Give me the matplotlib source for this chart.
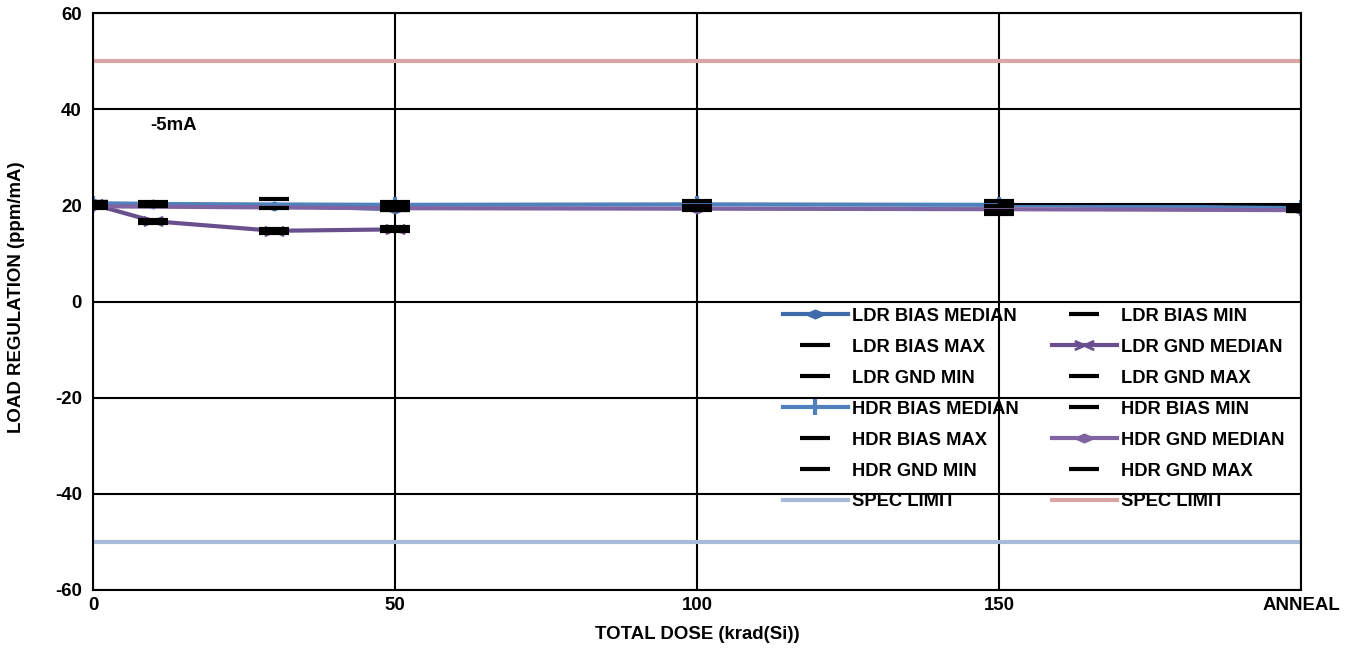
import matplotlib.pyplot as plt
from matplotlib.path import Path

plt.rcParams['font.family'] = ['Liberation Sans', 'DejaVu Sans']
plt.rcParams['font.weight'] = 'bold'
plt.rcParams['axes.unicode_minus'] = False

# dose points; ANNEAL is placed at 200
ldr_dose = [0, 10, 30, 50]
hdr_dose = [0, 50, 100, 150, 200]
x_ticks = [0, 50, 100, 150, 200]
x_ticklabels = ['0', '50', '100', '150', 'ANNEAL']

ldr_bias_median = [20.4, 20.3, 19.9, 19.2]
ldr_bias_min = [19.8, 19.9, 19.4, 19.0]
ldr_bias_max = [20.7, 20.6, 21.4, 20.6]
ldr_gnd_median = [20.2, 16.7, 14.7, 15.0]
ldr_gnd_min = [19.6, 16.4, 14.3, 14.6]
ldr_gnd_max = [20.6, 16.9, 15.1, 15.4]

hdr_bias_median = [20.3, 20.1, 20.2, 20.1, 19.4]
hdr_bias_min = [19.9, 19.6, 19.4, 18.3, 18.9]
hdr_bias_max = [20.6, 20.5, 20.9, 20.8, 19.6]
hdr_gnd_median = [19.8, 19.4, 19.3, 19.2, 19.0]
hdr_gnd_min = [19.5, 19.0, 19.0, 18.9, 18.8]
hdr_gnd_max = [20.2, 20.0, 19.9, 19.8, 19.4]

anneal_link_dose = [150, 200]
anneal_link = [20.2, 20.2]

spec_low = -50
spec_high = 50

diamond = Path([(-1, 0), (0, 0.45), (1, 0), (0, -0.45), (-1, 0)],
               [Path.MOVETO, Path.LINETO, Path.LINETO, Path.LINETO, Path.CLOSEPOLY])
cross = Path([(-1, 0.45), (1, -0.45), (-1, -0.45), (1, 0.45)],
             [Path.MOVETO, Path.LINETO, Path.MOVETO, Path.LINETO])

fig = plt.figure(figsize=(13.48, 6.48), dpi=100)
ax = fig.add_axes([93 / 1348, 58 / 648, 1208 / 1348, 577 / 648])

h = {}
h['sl'] = ax.axhline(spec_low, color='#A7BAD9', lw=3, label='SPEC LIMIT')
h['sh'] = ax.axhline(spec_high, color='#D9A5A5', lw=3, label='SPEC LIMIT')

h['lbm'], = ax.plot(ldr_dose, ldr_bias_median, color='#3E6BA9', lw=3,
                    marker=diamond, ms=14, label='LDR BIAS MEDIAN')
h['lgm'], = ax.plot(ldr_dose, ldr_gnd_median, color='#6A4F8E', lw=3,
                    marker=cross, ms=14, mew=2, label='LDR GND MEDIAN')
h['hbm'], = ax.plot(hdr_dose, hdr_bias_median, color='#4F81BD', lw=3,
                    marker='|', ms=12, mew=3, label='HDR BIAS MEDIAN')
h['hgm'], = ax.plot(hdr_dose, hdr_gnd_median, color='#8064A2', lw=3,
                    marker=diamond, ms=14, label='HDR GND MEDIAN')
ax.plot(anneal_link_dose, anneal_link, color='black', lw=1.5)

mm = dict(color='black', ls='none', marker='_', ms=22, mew=3)
h['lbn'], = ax.plot(ldr_dose, ldr_bias_min, label='LDR BIAS MIN', **mm)
h['lbx'], = ax.plot(ldr_dose, ldr_bias_max, label='LDR BIAS MAX', **mm)
h['lgn'], = ax.plot(ldr_dose, ldr_gnd_min, label='LDR GND MIN', **mm)
h['lgx'], = ax.plot(ldr_dose, ldr_gnd_max, label='LDR GND MAX', **mm)
h['hbn'], = ax.plot(hdr_dose, hdr_bias_min, label='HDR BIAS MIN', **mm)
h['hbx'], = ax.plot(hdr_dose, hdr_bias_max, label='HDR BIAS MAX', **mm)
h['hgn'], = ax.plot(hdr_dose, hdr_gnd_min, label='HDR GND MIN', **mm)
h['hgx'], = ax.plot(hdr_dose, hdr_gnd_max, label='HDR GND MAX', **mm)

ax.set_xlim(0, 200)
ax.set_ylim(-60, 60)
ax.set_xticks(x_ticks)
ax.set_xticklabels(x_ticklabels)
ax.set_yticks(range(-60, 61, 20))
ax.tick_params(length=0, labelsize=13.4)
ax.tick_params(axis='y', pad=8)
ax.tick_params(axis='x', pad=5)
for lab in ax.get_xticklabels() + ax.get_yticklabels():
    lab.set_fontweight('bold')
ax.grid(True, color='black', lw=1.5)
ax.set_axisbelow(True)
for s in ax.spines.values():
    s.set_linewidth(1.5)

ax.set_xlabel('TOTAL DOSE (krad(Si))', fontsize=13.4, fontweight='bold', labelpad=9)
ax.set_ylabel('LOAD REGULATION (ppm/mA)', fontsize=13.4, fontweight='bold')
ax.yaxis.set_label_coords(-0.0563, 0.507)
ax.text(9.5, 36.5, '-5mA', fontsize=13.4, fontweight='bold', va='center')

order = ['lbm', 'lbx', 'lgn', 'hbm', 'hbx', 'hgn', 'sl',
         'lbn', 'lgm', 'lgx', 'hbn', 'hgm', 'hgx', 'sh']
ax.legend([h[k] for k in order], [h[k].get_label() for k in order],
          ncol=2, loc='upper left', bbox_to_anchor=(0.571, 0.489),
          frameon=False, fontsize=13.2, handlelength=3.55, handletextpad=0.22,
          columnspacing=1.8, labelspacing=0.76, borderpad=0, borderaxespad=0)

fig.savefig('out.png', dpi=100)
